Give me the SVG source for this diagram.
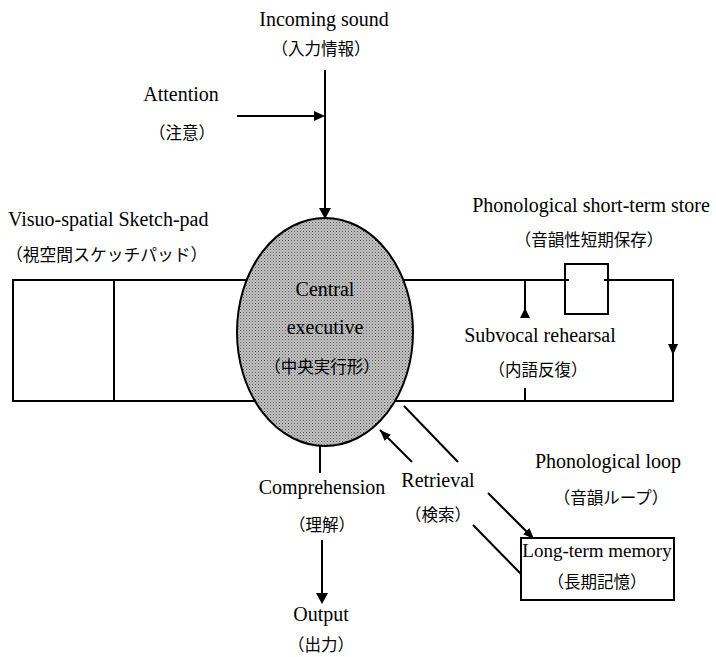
<svg xmlns="http://www.w3.org/2000/svg" width="716" height="657" viewBox="0 0 716 657">
<style>
.en{font-family:"Liberation Serif","Times New Roman",serif;font-size:20px;fill:#000;text-anchor:middle}
.jp{font-family:"Liberation Serif","Noto Sans CJK JP",serif;font-size:16.5px;fill:#000;text-anchor:middle}
.ln{stroke:#000;stroke-width:2;fill:none}
.bx{stroke:#000;stroke-width:2;fill:#fff}
.ah{fill:#000}
</style>
<defs>
<pattern id="dots" width="3" height="3" patternUnits="userSpaceOnUse">
<rect width="3" height="3" fill="#c4c4c4"/>
<rect x="0" y="0" width="1" height="1" fill="#555"/>
<rect x="1.5" y="1.5" width="1" height="1" fill="#777"/>
</pattern>
<marker id="arr" viewBox="0 0 10 8" refX="10" refY="4" markerWidth="11" markerHeight="9" markerUnits="userSpaceOnUse" orient="auto">
<path d="M0,0 L10,4 L0,8 z" fill="#000"/>
</marker>
</defs>
<rect width="716" height="657" fill="#fff"/>

<g id="connectors">
<line class="ln" x1="325" y1="70" x2="325" y2="210"/>
<polygon class="ah" points="319,208 331,208 325,219"/>
<line class="ln" x1="237" y1="116" x2="316" y2="116"/>
<polygon class="ah" points="314,111 314,121 325,116"/>
<line class="ln" x1="390" y1="280" x2="674" y2="280"/>
<line class="ln" x1="390" y1="401" x2="674" y2="401"/>
<line class="ln" x1="673" y1="280" x2="673" y2="401"/>
<polygon class="ah" points="668,344 678,344 673,355"/>
<line class="ln" x1="525" y1="280" x2="525" y2="318"/>
<polygon class="ah" points="520,318 530,318 525,308"/>
<line class="ln" x1="525" y1="388" x2="525" y2="401"/>
<line class="ln" x1="320" y1="444" x2="320" y2="473"/>
<line class="ln" x1="322" y1="540" x2="322" y2="595"/>
<polygon class="ah" points="316,593 328,593 322,604"/>
<line class="ln" x1="412" y1="462" x2="380" y2="430" marker-end="url(#arr)"/>
<line class="ln" x1="404" y1="406" x2="458" y2="462"/>
<line class="ln" x1="488" y1="493" x2="534" y2="539" marker-end="url(#arr)"/>
<line class="ln" x1="473" y1="525" x2="522" y2="575"/>
</g>

<g id="sketchpad">
<rect class="bx" x="13" y="280" width="300" height="121"/>
<line class="ln" x1="114" y1="280" x2="114" y2="401"/>
<text class="en" x="8" y="226" style="text-anchor:start">Visuo-spatial Sketch-pad</text>
<text class="jp" x="6" y="261" style="text-anchor:start;font-size:16.8px">（視空間スケッチパッド）</text>
</g>

<g id="central-executive">
<ellipse cx="325" cy="332" rx="88" ry="114" fill="url(#dots)" stroke="#000" stroke-width="2"/>
<text class="en" x="325" y="296">Central</text>
<text class="en" x="325" y="334">executive</text>
<text class="jp" x="322" y="373">（中央実行形）</text>
</g>

<g id="short-term-store">
<rect class="bx" x="565" y="264" width="43" height="50"/>
<line class="ln" x1="565" y1="280" x2="569" y2="280"/>
<line class="ln" x1="604" y1="280" x2="608" y2="280"/>
<text class="en" x="591" y="212">Phonological short-term store</text>
<text class="jp" x="589" y="246">（音韻性短期保存）</text>
</g>

<g id="subvocal">
<text class="en" x="540" y="342">Subvocal rehearsal</text>
<text class="jp" x="538" y="376">（内語反復）</text>
</g>

<g id="incoming">
<text class="en" x="324" y="26">Incoming sound</text>
<text class="jp" x="321" y="55">（入力情報）</text>
</g>

<g id="attention">
<text class="en" x="181" y="101">Attention</text>
<text class="jp" x="182" y="139">（注意）</text>
</g>

<g id="comprehension">
<text class="en" x="322" y="494">Comprehension</text>
<text class="jp" x="322" y="531">（理解）</text>
</g>

<g id="retrieval">
<text class="en" x="438" y="487">Retrieval</text>
<text class="jp" x="438" y="521">（検索）</text>
</g>

<g id="phonological-loop">
<text class="en" x="608" y="468">Phonological loop</text>
<text class="jp" x="611" y="504">（音韻ループ）</text>
</g>

<g id="long-term-memory">
<rect class="bx" x="521" y="538" width="153" height="62"/>
<text class="en" x="597" y="557" style="font-size:19px">Long-term memory</text>
<text class="jp" x="597" y="588">（長期記憶）</text>
</g>

<g id="output">
<text class="en" x="321" y="621">Output</text>
<text class="jp" x="321" y="651">（出力）</text>
</g>
</svg>
